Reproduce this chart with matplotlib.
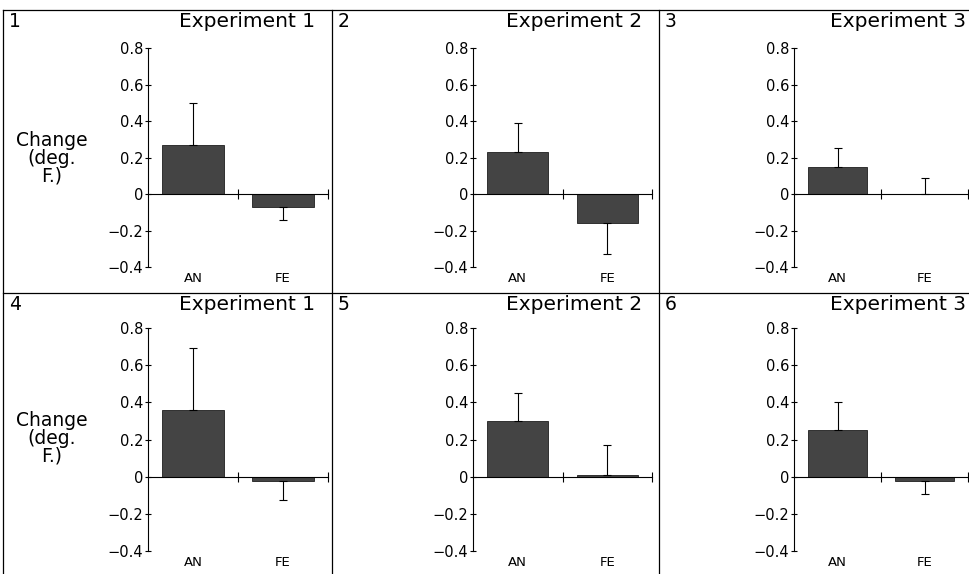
import matplotlib
matplotlib.use("Agg")
import matplotlib.pyplot as plt
from matplotlib.lines import Line2D

# data (deg. F change)
panel_ids = ["1", "2", "3", "4", "5", "6"]
titles = ["Experiment 1", "Experiment 2", "Experiment 3",
          "Experiment 1", "Experiment 2", "Experiment 3"]
groups = ["AN", "FE"]
an_vals = [0.27, 0.23, 0.15, 0.36, 0.30, 0.25]
an_errs = [0.23, 0.16, 0.10, 0.33, 0.15, 0.15]
fe_vals = [-0.07, -0.16, 0.0, -0.023, 0.01, -0.024]
fe_errs = [0.07, 0.17, 0.09, 0.10, 0.16, 0.07]
yticks = [-0.4, -0.2, 0, 0.2, 0.4, 0.6, 0.8]
ytick_labels = ["\u22120.4", "\u22120.2", "0", "0.2", "0.4", "0.6", "0.8"]

W, H = 969, 574
fig = plt.figure(figsize=(W / 100, H / 100), dpi=100)
plt.rcParams['font.family'] = ['DejaVu Sans']

# pixel layout
ax_left = [148, 473, 794]
ax_width = [180, 179, 174]
row_top = [48, 328]       # pixel y of 0.8
row_bot = [267, 551]      # pixel y of -0.4
sep_x = [3, 332, 659]
sep_y = [10, 293]
title_right = [315, 642, 966]


def fx(px):
    return px / W


def fy(py):
    return 1 - py / H


# panel frame lines
for x in sep_x:
    fig.add_artist(Line2D([fx(x), fx(x)], [fy(sep_y[0]), 0], color="black", lw=0.9))
for y in sep_y:
    fig.add_artist(Line2D([fx(sep_x[0]), 1], [fy(y), fy(y)], color="black", lw=0.9))

for i in range(6):
    r, c = divmod(i, 3)
    ax = fig.add_axes([fx(ax_left[c]), fy(row_bot[r]), ax_width[c] / W,
                       (row_bot[r] - row_top[r]) / H])
    vals = [an_vals[i], fe_vals[i]]
    errs = [an_errs[i], fe_errs[i]]
    xs = [0.5, 1.5]
    ax.bar(xs, vals, width=0.68, color="#444444", edgecolor="#1e1e1e", lw=0.6)
    for x, v, e in zip(xs, vals, errs):
        if v >= 0:
            ax.errorbar(x, v, yerr=[[0], [e]], fmt="none", ecolor="black",
                        elinewidth=0.8, capsize=3, capthick=0.8)
        else:
            ax.errorbar(x, v, yerr=[[e], [0]], fmt="none", ecolor="black",
                        elinewidth=0.8, capsize=3, capthick=0.8)
    ax.set_xlim(0, 2)
    ax.set_ylim(-0.4, 0.8)
    ax.spines["top"].set_visible(False)
    ax.spines["right"].set_visible(False)
    ax.spines["bottom"].set_position(("data", 0))
    ax.spines["left"].set_linewidth(0.8)
    ax.spines["bottom"].set_linewidth(0.8)
    ax.set_yticks(yticks)
    ax.set_yticklabels(ytick_labels, fontsize=10.5)
    ax.set_xticks([1, 2])
    ax.set_xticklabels([])
    ax.tick_params(axis="y", direction="inout", length=5, width=0.8, pad=1)
    ax.tick_params(axis="x", direction="inout", length=7, width=0.8)
    ax.patch.set_visible(False)
    for x, g in zip(xs, groups):
        ax.text(x, -0.425, g, ha="center", va="top", fontsize=9.5)

    # panel number and title
    fig.text(fx(sep_x[c] + 6), fy(sep_y[r] + 2), panel_ids[i], ha="left", va="top", fontsize=13.5)
    fig.text(fx(title_right[c]), fy(sep_y[r] + 2), titles[i], ha="right", va="top", fontsize=14.5)

    if c == 0:
        fig.text(fx(52), fy(row_top[r] + 110), "Change\n(deg.\nF.)", ha="center",
                 va="center", fontsize=13.5, linespacing=0.9)

fig.savefig("out.png", dpi=100)
